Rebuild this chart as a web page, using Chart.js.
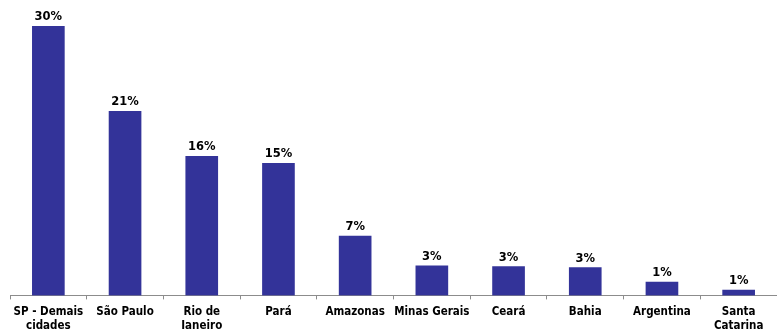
<!DOCTYPE html>
<html>
<head>
<meta charset="utf-8">
<script src="https://cdn.jsdelivr.net/npm/chart.js@4/dist/chart.umd.min.js"></script>
<style>
  html, body { margin: 0; padding: 0; background: #ffffff; }
  #wrap { width: 777px; height: 329px; }
</style>
</head>
<body>
<div id="wrap"><canvas id="chart" width="777" height="329"></canvas></div>
<script>
// Share of total by region (percent)
const categories = [
  ['SP - Demais', 'cidades'],
  'São Paulo',
  ['Rio de', 'Janeiro'],
  'Pará',
  'Amazonas',
  'Minas Gerais',
  'Ceará',
  'Bahia',
  'Argentina',
  ['Santa', 'Catarina']
];
const shares = [30.0, 20.5, 15.5, 14.7, 6.6, 3.3, 3.2, 3.1, 1.49, 0.6];

const FONT = '"DejaVu Sans Condensed", "DejaVu Sans", sans-serif';
const VALUE_FONT = '"DejaVu Sans", sans-serif';

// Writes each bar's rounded percentage above it
const valueLabels = {
  id: 'valueLabels',
  afterDatasetsDraw(chart) {
    const ctx = chart.ctx;
    const meta = chart.getDatasetMeta(0);
    const data = chart.data.datasets[0].data;
    ctx.save();
    ctx.font = 'bold 11.5px ' + VALUE_FONT;
    ctx.fillStyle = '#000000';
    ctx.textAlign = 'center';
    ctx.textBaseline = 'alphabetic';
    meta.data.forEach((bar, i) => {
      ctx.fillText(Math.round(data[i]) + '%', bar.x, bar.y - 6);
    });
    ctx.restore();
  }
};

new Chart(document.getElementById('chart'), {
  type: 'bar',
  data: {
    labels: categories,
    datasets: [{
      data: shares,
      backgroundColor: '#333399',
      borderWidth: 0,
      barThickness: 32
    }]
  },
  options: {
    responsive: false,
    animation: false,
    layout: { padding: { top: 26, left: 10, right: 0, bottom: -10 } },
    plugins: {
      legend: { display: false },
      tooltip: { enabled: false }
    },
    scales: {
      y: {
        display: false,
        min: 0,
        max: 30
      },
      x: {
        offset: true,
        grid: {
          display: true,
          offset: true,
          drawOnChartArea: false,
          drawTicks: true,
          tickLength: 4,
          color: '#8c8c8c'
        },
        border: { display: true, color: '#8c8c8c', width: 1 },
        ticks: {
          autoSkip: false,
          maxRotation: 0,
          minRotation: 0,
          padding: 6,
          color: '#000000',
          font: { family: FONT, size: 11.5, weight: 'bold', lineHeight: 1.2 }
        }
      }
    }
  },
  plugins: [valueLabels]
});
</script>
</body>
</html>
